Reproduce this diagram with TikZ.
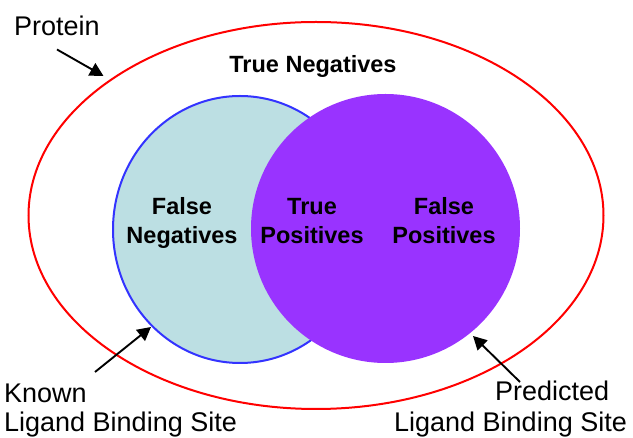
\documentclass[tikz,border=0pt]{standalone}
\usepackage{fontspec}
\setmainfont{Liberation Sans}
\usetikzlibrary{shapes.geometric,arrows.meta}
\definecolor{protred}{RGB}{255,0,0}
\definecolor{knownfill}{RGB}{188,223,227}
\definecolor{knownline}{RGB}{51,51,255}
\definecolor{predfill}{RGB}{153,51,255}
\tikzset{
  region/.style={ellipse, inner sep=0pt, outer sep=0pt},
  inlabel/.style={font=\fontsize{23.5}{29}\selectfont\bfseries, align=center, inner sep=0pt, anchor=base},
  outlabel/.style={font=\fontsize{27}{30}\selectfont, inner sep=0pt, anchor=base west},
  pointer/.style={line width=1.9pt, -{Triangle[length=13.5pt,width=14pt]}}
}
\begin{document}
\begin{tikzpicture}[x=1pt,y=-1pt]
\useasboundingbox (0,0) rectangle (633,438);
\node[region, draw=protred, line width=2pt, minimum width=575pt, minimum height=387pt] (protein) at (316,215.5) {};
\node[region, draw=knownline, fill=knownfill, line width=2pt, minimum width=254pt, minimum height=267pt] (known) at (240,229.5) {};
\node[region, fill=predfill, minimum width=269pt, minimum height=269pt] (pred) at (385.5,228.5) {};
\node[inlabel] (tn) at (313,72.5) {True Negatives};
\node[inlabel] (fn) at (182,244) {False\\Negatives};
\node[inlabel] (tp) at (312,244) {True\\Positives};
\node[inlabel] (fp) at (444,244) {False\\Positives};
\node[outlabel] (lprot) at (14,36) {Protein};
\node[outlabel] (lknown1) at (4,403) {Known};
\node[outlabel] (lknown2) at (4,432) {Ligand Binding Site};
\node[outlabel] (lpred1) at (495,401) {Predicted};
\node[outlabel] (lpred2) at (394,432) {Ligand Binding Site};
\coordinate (tprot) at (103.5,76);
\coordinate (sprot) at (57,49.5);
\coordinate (tknown) at (151,327);
\coordinate (sknown) at (95,372);
\coordinate (tpred) at (473,336);
\coordinate (spred) at (520,382);
\draw[pointer] (sprot) -- (tprot);
\draw[pointer] (sknown) -- (tknown);
\draw[pointer] (spred) -- (tpred);
\end{tikzpicture}
\end{document}
